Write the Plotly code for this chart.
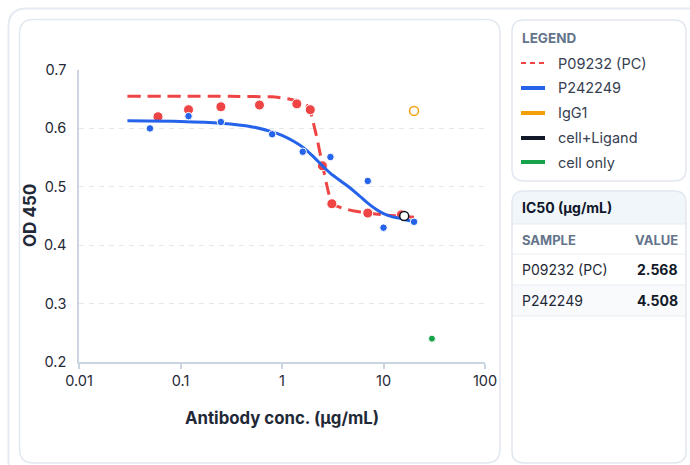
import plotly.graph_objects as go

# ---------------- data ----------------
pc_conc = [0.06, 0.12, 0.25, 0.6, 1.4, 1.9, 2.5, 3.1, 7.0, 15.0]
pc_od = [0.62, 0.632, 0.637, 0.64, 0.642, 0.632, 0.536, 0.471, 0.455, 0.452]

p24_conc = [0.05, 0.12, 0.25, 0.8, 1.6, 3.0, 7.0, 10.0, 20.0]
p24_od = [0.60, 0.621, 0.611, 0.59, 0.56, 0.551, 0.51, 0.43, 0.44]

pc_fit_conc = [0.03, 0.3, 0.8, 1.0, 1.2, 1.4, 1.6, 1.8, 1.9, 2.0, 2.2, 2.5, 2.8, 3.0, 3.2,
               3.6, 4.0, 5.0, 7.0, 10.0, 14.0, 20.0]
pc_fit_od = [0.655, 0.655, 0.654, 0.652, 0.650, 0.647, 0.643, 0.638, 0.630, 0.615, 0.585,
             0.538, 0.498, 0.478, 0.469, 0.466, 0.463, 0.459, 0.455, 0.452, 0.450, 0.448]

p24_fit_conc = [0.03, 0.1, 0.25, 0.5, 0.8, 1.0, 1.3, 1.6, 2.0, 2.5, 3.0, 4.3, 5.5, 7.0, 8.5,
                10.0, 12.0, 14.5, 18.0, 20.0]
p24_fit_od = [0.613, 0.612, 0.609, 0.603, 0.594, 0.588, 0.578, 0.568, 0.553, 0.536, 0.523,
              0.503, 0.488, 0.472, 0.461, 0.454, 0.449, 0.446, 0.442, 0.441]

igg_conc = [20.0]
igg_od = [0.63]
ligand_conc = [16.0]
ligand_od = [0.45]
cell_conc = [30.0]
cell_od = [0.24]

x_tick_vals = [0.01, 0.1, 1, 10, 100]
x_tick_text = ["0.01", "0.1", "1", "10", "100"]
y_tick_vals = [0.2, 0.3, 0.4, 0.5, 0.6, 0.7]
y_tick_text = ["0.2", "0.3", "0.4", "0.5", "0.6", "0.7"]

legend_names = ["P09232 (PC)", "P242249", "IgG1", "cell+Ligand", "cell only"]
ic50_samples = ["P09232 (PC)", "P242249"]
ic50_values = ["2.568", "4.508"]

RED = "#ef4444"
BLUE = "#2563eb"
ORANGE = "#f59e0b"
BLACK = "#111827"
GREEN = "#16a34a"
legend_colors = [RED, BLUE, ORANGE, BLACK, GREEN]

W, H = 690, 465
FONT = "Inter, Noto Sans, sans-serif"


def px(x):
    return x / W


def py(y):
    return 1 - y / H


def rrect_path(x0, y0, x1, y1, r, top_only=False):
    pts = []
    pts.append(f"M {px(x0 + r)},{py(y0)}")
    pts.append(f"L {px(x1 - r)},{py(y0)}")
    pts.append(f"Q {px(x1)},{py(y0)} {px(x1)},{py(y0 + r)}")
    if top_only:
        pts.append(f"L {px(x1)},{py(y1)}")
        pts.append(f"L {px(x0)},{py(y1)}")
    else:
        pts.append(f"L {px(x1)},{py(y1 - r)}")
        pts.append(f"Q {px(x1)},{py(y1)} {px(x1 - r)},{py(y1)}")
        pts.append(f"L {px(x0 + r)},{py(y1)}")
        pts.append(f"Q {px(x0)},{py(y1)} {px(x0)},{py(y1 - r)}")
    pts.append(f"L {px(x0)},{py(y0 + r)}")
    pts.append(f"Q {px(x0)},{py(y0)} {px(x0 + r)},{py(y0)}")
    pts.append("Z")
    return " ".join(pts)


fig = go.Figure()

# red fit + points
fig.add_trace(go.Scatter(x=pc_fit_conc, y=pc_fit_od, mode="lines",
                         line=dict(color=RED, width=3, dash="13px,7px", shape="spline", smoothing=0.3),
                         name=legend_names[0], hoverinfo="skip"))
fig.add_trace(go.Scatter(x=pc_conc, y=pc_od, mode="markers",
                         marker=dict(color=RED, size=10, line=dict(color="white", width=1)),
                         name=legend_names[0]))
# blue fit + points
fig.add_trace(go.Scatter(x=p24_fit_conc, y=p24_fit_od, mode="lines",
                         line=dict(color=BLUE, width=3, shape="spline", smoothing=0.6),
                         name=legend_names[1], hoverinfo="skip"))
fig.add_trace(go.Scatter(x=p24_conc, y=p24_od, mode="markers",
                         marker=dict(color=BLUE, size=7.5, line=dict(color="white", width=1)),
                         name=legend_names[1]))
# controls
fig.add_trace(go.Scatter(x=igg_conc, y=igg_od, mode="markers",
                         marker=dict(color="white", size=9, line=dict(color=ORANGE, width=1.5)),
                         name=legend_names[2]))
fig.add_trace(go.Scatter(x=ligand_conc, y=ligand_od, mode="markers",
                         marker=dict(color="white", size=9, line=dict(color=BLACK, width=1.5)),
                         name=legend_names[3]))
fig.add_trace(go.Scatter(x=cell_conc, y=cell_od, mode="markers",
                         marker=dict(color=GREEN, size=7, line=dict(color="white", width=1)),
                         name=legend_names[4]))

shapes = []
BORDER = "#e2e8f0"
# cards
shapes.append(dict(type="path", path=rrect_path(8.5, 8.5, 720, 500, 18), xref="paper", yref="paper",
                   line=dict(color="#e5e9f1", width=2), fillcolor="white", layer="below"))
shapes.append(dict(type="path", path=rrect_path(19.5, 19.5, 500, 463, 14), xref="paper", yref="paper",
                   line=dict(color=BORDER, width=1.5), fillcolor="white", layer="below"))
shapes.append(dict(type="path", path=rrect_path(512, 20, 686, 181, 12), xref="paper", yref="paper",
                   line=dict(color=BORDER, width=1.5), fillcolor="white", layer="below"))
# IC50 card
shapes.append(dict(type="path", path=rrect_path(512, 191, 686, 224, 12, top_only=True), xref="paper",
                   yref="paper", line=dict(width=0), fillcolor="#f0f6fa", layer="below"))
shapes.append(dict(type="rect", x0=px(512), x1=px(686), y0=py(316), y1=py(285), xref="paper", yref="paper",
                   line=dict(width=0), fillcolor="#f8fafc", layer="below"))
for yy in [224, 254, 285, 316]:
    shapes.append(dict(type="line", x0=px(512), x1=px(686), y0=py(yy), y1=py(yy), xref="paper",
                       yref="paper", line=dict(color="#e8edf3", width=1), layer="below"))
shapes.append(dict(type="path", path=rrect_path(512, 191, 686, 463, 12), xref="paper", yref="paper",
                   line=dict(color=BORDER, width=1.5), fillcolor="rgba(0,0,0,0)", layer="below"))

# legend samples
legend_y = [63, 88, 113, 138, 162]
for i, (nm, col) in enumerate(zip(legend_names, legend_colors)):
    shapes.append(dict(type="line", x0=px(521), x1=px(545), y0=py(legend_y[i]), y1=py(legend_y[i]),
                       xref="paper", yref="paper",
                       line=dict(color=col, width=2 if i == 0 else 4, dash="5px,4px" if i == 0 else "solid")))

annotations = []
# axis titles
annotations.append(dict(text="<b>Antibody conc. (µg/mL)</b>", x=px(282), y=py(418), xref="paper", yref="paper",
                        showarrow=False, xanchor="center", yanchor="middle",
                        font=dict(family=FONT, size=16.8, color="#1f2937")))
annotations.append(dict(text="<b>OD 450</b>", x=px(30), y=py(216), xref="paper", yref="paper", textangle=-90,
                        showarrow=False, xanchor="center", yanchor="middle",
                        font=dict(family=FONT, size=17, color="#1f2937")))
# legend text
annotations.append(dict(text="<b>LEGEND</b>", x=px(520), y=py(38), xref="paper", yref="paper",
                        showarrow=False, xanchor="left", yanchor="middle",
                        font=dict(family=FONT, size=13.5, color="#64748b")))
for i, nm in enumerate(legend_names):
    annotations.append(dict(text=nm, x=px(556), y=py(legend_y[i]), xref="paper", yref="paper",
                            showarrow=False, xanchor="left", yanchor="middle",
                            font=dict(family=FONT, size=14.5, color="#374151")))
# table text
annotations.append(dict(text="<b>IC50 (µg/mL)</b>", x=px(520), y=py(208), xref="paper", yref="paper",
                        showarrow=False, xanchor="left", yanchor="middle",
                        font=dict(family=FONT, size=14, color="#0f172a")))
annotations.append(dict(text="<b>SAMPLE</b>", x=px(520), y=py(240), xref="paper", yref="paper",
                        showarrow=False, xanchor="left", yanchor="middle",
                        font=dict(family=FONT, size=13, color="#64748b")))
annotations.append(dict(text="<b>VALUE</b>", x=px(680), y=py(240), xref="paper", yref="paper",
                        showarrow=False, xanchor="right", yanchor="middle",
                        font=dict(family=FONT, size=13, color="#64748b")))
row_y = [269, 300]
for s, v, yy in zip(ic50_samples, ic50_values, row_y):
    annotations.append(dict(text=s, x=px(520), y=py(yy), xref="paper", yref="paper",
                            showarrow=False, xanchor="left", yanchor="middle",
                            font=dict(family=FONT, size=14, color="#1f2937")))
    annotations.append(dict(text=f"<b>{v}</b>", x=px(680), y=py(yy), xref="paper", yref="paper",
                            showarrow=False, xanchor="right", yanchor="middle",
                            font=dict(family=FONT, size=14, color="#111827")))

fig.update_layout(
    width=W, height=H, autosize=False,
    margin=dict(l=0, r=0, t=0, b=0, pad=0, autoexpand=False),
    paper_bgcolor="white", plot_bgcolor="rgba(0,0,0,0)",
    showlegend=False,
    font=dict(family=FONT, size=14, color="#1f2937"),
    shapes=shapes, annotations=annotations,
    xaxis=dict(type="log", range=[-2, 2], domain=[px(79), px(485)], automargin=False,
               tickvals=x_tick_vals, ticktext=x_tick_text,
               showline=True, linecolor="#cbd5e1", linewidth=1.5,
               ticks="outside", ticklen=5, tickcolor="#cbd5e1", tickwidth=1.5,
               showgrid=False, zeroline=False,
               tickfont=dict(family=FONT, size=14.5, color="#1f2937")),
    yaxis=dict(range=[0.2, 0.7], domain=[py(362), py(70)], automargin=False,
               tickvals=y_tick_vals, ticktext=y_tick_text,
               showline=True, linecolor="#cbd5e1", linewidth=1.5,
               ticks="", showgrid=True, gridcolor="#e5e7eb", gridwidth=1, griddash="5px,5px",
               zeroline=False, ticklabelstandoff=8,
               tickfont=dict(family=FONT, size=14.5, color="#1f2937")),
)

fig.write_html("out.html")
